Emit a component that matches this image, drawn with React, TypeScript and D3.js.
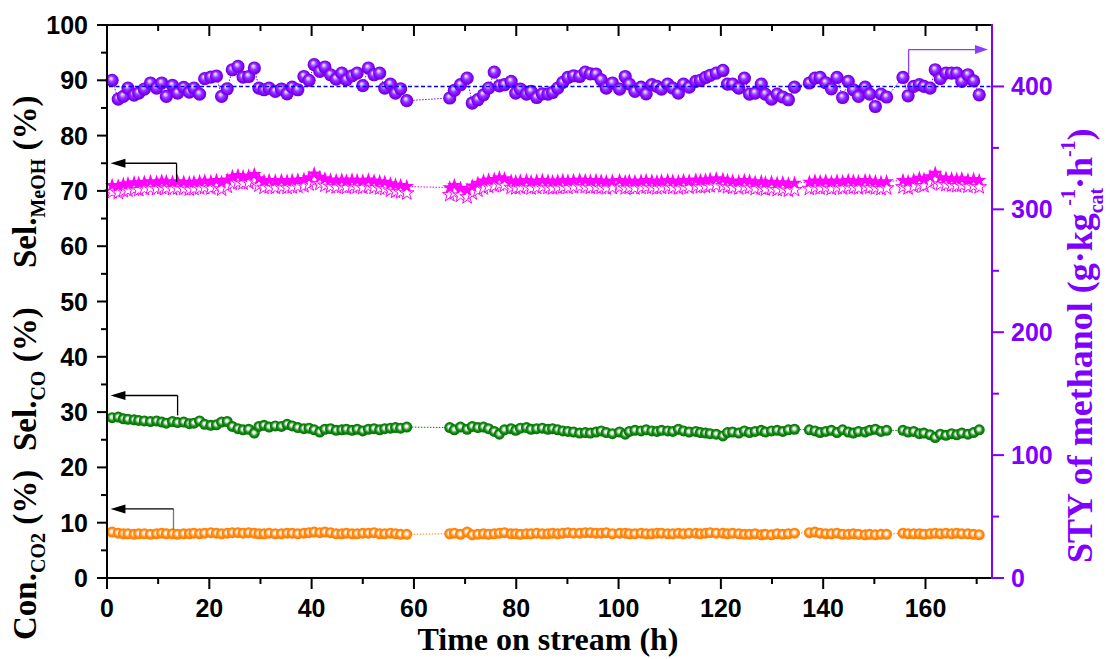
import React from 'react';
import * as d3 from 'd3';

// Time on stream (h)
const hours = [
  1.0, 2.2, 3.2, 4.1, 5.3, 6.2, 7.3, 8.5, 9.7, 10.7, 11.6, 12.8, 13.8, 15.0, 16.1, 17.0, 18.1, 19.1, 20.3, 21.4,
  22.4, 23.5, 24.5, 25.6, 26.6, 27.7, 28.8, 29.7, 30.7, 31.7, 32.9, 34.1, 35.2, 36.2, 37.3, 38.5, 39.5, 40.5, 41.6, 42.6,
  43.7, 44.8, 45.9, 46.8, 47.9, 48.9, 50.0, 51.1, 52.2, 53.3, 54.3, 55.4, 56.4, 57.4, 58.6,
  67.0, 67.9, 69.1, 70.4, 71.4, 72.5, 73.6, 74.6, 75.7, 76.7, 77.7, 79.0, 79.9, 80.8, 82.0, 82.9, 84.0, 85.1, 86.2, 87.1,
  88.1, 89.1, 90.1, 91.2, 92.4, 93.5, 94.5, 95.6, 96.6, 97.6, 98.8, 100.2, 101.3, 102.1, 103.2, 104.4, 105.4, 106.5, 107.5, 108.4,
  109.6, 110.6, 111.7, 112.7, 113.8, 115.1, 116.0, 117.0, 117.9, 119.1, 120.4, 121.3, 122.3, 123.5, 124.6, 125.6, 126.7, 127.9, 128.7, 129.9,
  131.0, 132.1, 133.2, 134.4,
  137.3, 138.4, 139.4, 140.5, 141.6, 142.7, 143.8, 144.9, 145.9, 146.9, 148.2, 149.1, 150.2, 151.3, 152.4,
  155.6, 156.6, 157.7, 158.8, 159.7, 160.9, 161.9, 162.9, 164.0, 165.1, 166.1, 167.1, 168.3, 169.4, 170.5,
];

// STY of methanol (g·kg_cat^-1·h^-1), right axis
const styMethanol = [
  405, 389.7, 391.9, 398.7, 393, 394.6, 397.9, 402.8, 398.7, 402.8, 391.9, 400.8, 394.6, 399.2, 395.4, 398.7, 393.8, 406.3, 407.6, 408.5,
  391.9, 398.1, 413.6, 416.3, 407.6, 408.1, 415, 398.7, 397.3, 398.7, 396, 397.9, 394, 399.4, 397.3, 408.1, 405, 417.7, 412.2, 415.8,
  409.5, 406, 410.9, 405.4, 408.7, 410.9, 400.6, 415, 409.5, 410.9, 398.7, 401.9, 394.6, 398.1, 388.4,
  390.6, 396.8, 401.4, 406.8, 386.5, 389.2, 393.2, 398.7, 411.7, 400.5, 401.4, 404.1, 394.6, 397.9, 393.8, 396, 391, 394, 393.8, 395.1,
  398.7, 403.3, 407.3, 408.7, 408.1, 411.7, 410.3, 410.1, 405.4, 398.7, 402.8, 397.9, 408.1, 401.9, 396, 399.4, 394, 401.4, 400, 397.9,
  401.9, 398.7, 394.6, 401.9, 399.4, 404.1, 405, 407.3, 409, 410.9, 413, 401.9, 401.9, 398.7, 406.8, 393.8, 394.6, 401.9, 393.8, 389.7,
  393.8, 391.4, 389.2, 399.4,
  402.8, 406.8, 407.3, 403, 398.1, 407.3, 391, 404.1, 397.3, 391.9, 399.4, 393.8, 383.7, 393.8, 391.4,
  407.3, 392.4, 400, 401.4, 400, 398.7, 413.6, 406.3, 410.9, 410.9, 410.9, 404.1, 409.5, 404.5, 393.2,
];

// Sel. MeOH (%), filled stars
const selMeOH = [
  71.0, 70.9, 71.2, 71.3, 71.5, 71.4, 71.6, 71.7, 71.6, 71.8, 71.7, 71.6, 71.7, 71.6, 71.5, 71.6, 71.7, 71.8, 71.7, 71.9,
  71.6, 72.0, 72.6, 72.8, 72.6, 72.7, 73.0, 72.2, 71.8, 71.9, 71.8, 71.9, 71.8, 71.9, 72.0, 72.1, 72.4, 73.1, 72.5, 72.2,
  72.0, 71.9, 72.0, 71.8, 72.0, 71.9, 71.8, 72.0, 71.8, 71.7, 71.6, 71.3, 71.1, 71.0, 70.8,
  70.6, 71.0, 70.5, 70.2, 70.9, 71.4, 71.8, 72.0, 72.1, 72.4, 72.2, 71.8, 71.7, 71.8, 71.9, 71.7, 71.8, 71.9, 71.8, 71.7,
  71.8, 71.9, 71.8, 71.9, 72.0, 71.9, 71.8, 71.9, 71.8, 71.7, 71.8, 71.9, 71.7, 71.8, 71.7, 71.8, 71.9, 71.8, 71.7, 71.8,
  71.9, 71.8, 71.7, 71.9, 71.8, 72.0, 71.9, 72.0, 72.1, 72.2, 72.1, 71.9, 71.8, 71.7, 71.9, 71.8, 71.6, 71.7, 71.5, 71.6,
  71.4, 71.5, 71.3, 71.4,
  71.6, 71.8, 71.7, 71.8, 71.6, 71.8, 71.7, 71.9, 71.8, 71.7, 71.9, 71.8, 71.7, 71.6, 71.7,
  71.9, 71.7, 72.0, 72.3, 72.1, 72.6, 73.2, 72.4, 72.3, 72.2, 72.1, 72.2, 72.0, 72.1, 71.9,
];

// Sel. MeOH (%), open stars
const selMeOHOpen = [
  69.8, 69.7, 70.0, 70.1, 70.3, 70.2, 70.4, 70.5, 70.4, 70.6, 70.5, 70.4, 70.5, 70.4, 70.3, 70.4, 70.5, 70.6, 70.5, 70.7,
  70.3, 70.8, 71.3, 71.5, 71.4, 71.5, 71.8, 71.0, 70.6, 70.7, 70.6, 70.7, 70.6, 70.7, 70.8, 70.9, 71.2, 71.8, 71.3, 71.0,
  70.8, 70.7, 70.8, 70.6, 70.8, 70.7, 70.6, 70.8, 70.6, 70.5, 70.4, 70.1, 69.9, 69.8, 69.6,
  69.3, 69.7, 69.2, 68.9, 69.6, 70.1, 70.5, 70.8, 70.9, 71.2, 71.0, 70.6, 70.5, 70.6, 70.7, 70.5, 70.6, 70.7, 70.6, 70.5,
  70.6, 70.7, 70.6, 70.7, 70.8, 70.7, 70.6, 70.7, 70.6, 70.5, 70.6, 70.7, 70.5, 70.6, 70.5, 70.6, 70.7, 70.6, 70.5, 70.6,
  70.7, 70.6, 70.5, 70.7, 70.6, 70.8, 70.7, 70.8, 70.9, 71.0, 70.9, 70.7, 70.6, 70.5, 70.7, 70.6, 70.4, 70.5, 70.3, 70.4,
  70.2, 70.3, 70.1, 70.2,
  70.4, 70.6, 70.5, 70.6, 70.4, 70.6, 70.5, 70.7, 70.6, 70.5, 70.7, 70.6, 70.5, 70.4, 70.5,
  70.7, 70.5, 70.8, 71.1, 70.9, 71.4, 72.0, 71.2, 71.1, 71.0, 70.9, 71.0, 70.8, 70.9, 70.7,
];

// Sel. CO (%)
const selCO = [
  29.0, 29.1, 28.8, 28.7, 28.6, 28.5, 28.4, 28.3, 28.4, 28.2, 28.0, 28.3, 28.1, 28.2, 27.9, 28.0, 28.4, 27.8, 27.6, 27.7,
  28.2, 28.3, 27.4, 27.0, 26.8, 26.9, 26.2, 27.4, 27.6, 27.3, 27.5, 27.4, 27.8, 27.5, 27.2, 27.0, 27.1, 26.8, 26.4, 26.9,
  27.0, 26.7, 26.8, 26.9, 26.7, 26.9, 26.6, 26.9, 27.0, 26.8, 27.0, 27.1, 27.2, 27.1, 27.3,
  27.2, 26.8, 27.3, 26.9, 27.4, 27.2, 27.3, 27.0, 26.5, 26.0, 26.8, 27.0, 26.7, 27.1, 27.2, 26.9, 27.0, 27.1, 26.9, 27.0,
  26.8, 26.6, 26.5, 26.4, 26.2, 26.3, 26.2, 26.4, 26.6, 26.3, 26.1, 26.4, 26.0, 26.5, 26.7, 26.6, 26.8, 26.6, 26.5, 26.7,
  26.6, 26.5, 26.9, 26.6, 26.4, 26.5, 26.3, 26.2, 26.1, 26.0, 25.7, 26.3, 26.4, 26.2, 26.6, 26.3, 26.5, 26.7, 26.4, 26.6,
  26.7, 26.5, 26.8, 26.9,
  26.8, 26.6, 26.3, 26.5, 26.7, 26.3, 26.8, 26.4, 26.2, 26.5, 26.4, 26.7, 26.9, 26.5, 26.7,
  26.7, 26.4, 26.5, 26.1, 26.2, 25.9, 25.4, 26.0, 25.8, 26.1, 25.9, 26.2, 26.0, 26.3, 26.8,
];

// Con. CO2 (%)
const convCO2 = [
  8.3, 8.1, 8.0, 8.0, 7.9, 8.0, 8.0, 7.9, 8.0, 8.1, 8.0, 8.0, 7.9, 8.0, 8.0, 8.1, 8.0, 8.1, 8.2, 8.1,
  8.0, 8.1, 8.2, 8.2, 8.1, 8.2, 8.1, 8.0, 8.0, 8.1, 8.0, 8.0, 8.1, 8.1, 8.0, 8.1, 8.2, 8.3, 8.2, 8.3,
  8.2, 8.0, 8.0, 8.1, 8.0, 8.0, 8.1, 8.1, 8.2, 8.0, 8.0, 8.1, 8.0, 7.9, 7.9,
  8.0, 8.1, 7.9, 8.3, 7.8, 7.9, 8.0, 7.9, 8.0, 8.1, 8.2, 8.0, 8.0, 7.9, 8.0, 8.0, 8.1, 8.0, 8.0, 8.1,
  8.0, 8.1, 8.2, 8.1, 8.1, 8.2, 8.2, 8.1, 8.1, 8.2, 8.0, 8.1, 8.1, 8.0, 8.0, 8.1, 8.0, 8.0, 8.1, 8.1,
  8.0, 8.0, 8.1, 8.0, 8.1, 8.1, 8.0, 8.1, 8.2, 8.1, 8.1, 8.0, 8.1, 8.0, 7.9, 7.9, 8.0, 7.8, 7.9, 7.8,
  8.0, 7.9, 8.0, 8.1,
  8.2, 8.3, 8.1, 8.0, 8.0, 8.1, 7.9, 7.9, 8.0, 7.9, 7.8, 7.9, 7.8, 7.9, 7.9,
  8.1, 8.0, 8.0, 8.0, 7.9, 8.0, 8.1, 8.0, 8.1, 8.0, 8.1, 8.0, 8.0, 7.9, 7.8,
];

// Axis ticks
const leftMajor = [0, 10, 20, 30, 40, 50, 60, 70, 80, 90, 100];
const leftMinor = [5, 15, 25, 35, 45, 55, 65, 75, 85, 95];
const timeMajor = [0, 20, 40, 60, 80, 100, 120, 140, 160];
const timeMinor = [10, 30, 50, 70, 90, 110, 130, 150, 170];
const rightMajor = [0, 100, 200, 300, 400];
const rightMinor = [50, 150, 250, 350];
const styTarget = 400;

const W = 1110;
const H = 659;
const X0 = 107;
const X1 = 992;
const Y0 = 578;
const Y1 = 25;

const PURPLE = '#8000ff';
const SANS = '"Liberation Sans", Arial, sans-serif';
const SERIF = '"Liberation Serif", "Times New Roman", serif';

export default function App() {
  const x = d3.scaleLinear().domain([0, 173]).range([X0, X1]);
  const yL = d3.scaleLinear().domain([0, 100]).range([Y0, Y1]);
  const yR = d3.scaleLinear().domain([0, 450]).range([Y0, Y1]);

  const lineL = (vals: number[]) =>
    d3.line<number>().x((_, i) => x(hours[i])).y((d) => yL(d))(vals) || '';
  const lineR = (vals: number[]) =>
    d3.line<number>().x((_, i) => x(hours[i])).y((d) => yR(d))(vals) || '';

  const star = d3.symbol().type(d3.symbolStar).size(66)() || '';

  // Arrow: polyline from the marker row to the axis with a filled head
  const arrowLeft = (tx: number, yTop: number, yBot: number, vColor = '#000') => {
    const ax = x(tx);
    const ay = yL(yTop);
    return (
      <g>
        <line x1={ax} y1={yL(yBot)} x2={ax} y2={ay} stroke={vColor} strokeWidth={1.3} />
        <line x1={ax} y1={ay} x2={x(1.5)} y2={ay} stroke="#000" strokeWidth={1.3} />
        <path d={`M${x(0.7)},${ay} L${x(3.6)},${ay - 4.5} L${x(3.6)},${ay + 4.5} Z`} fill="#000" />
      </g>
    );
  };

  const rx = x(156.7);
  const ry = yR(430);
  const tipX = x(172.2);

  return (
    <svg
      width={W}
      height={H}
      viewBox={`0 0 ${W} ${H}`}
      style={{ position: 'absolute', left: 0, top: 0, background: '#fff' }}
    >
      <defs>
        <radialGradient id="ballPurple" cx="50%" cy="50%" r="50%" fx="40%" fy="33%">
          <stop offset="0" stopColor="#f6eeff" />
          <stop offset="0.18" stopColor="#d6b4ff" />
          <stop offset="0.45" stopColor="#9636ff" />
          <stop offset="0.8" stopColor="#8000ff" />
          <stop offset="1" stopColor="#6800d6" />
        </radialGradient>
        <radialGradient id="ballGreen" cx="50%" cy="50%" r="50%" fx="46%" fy="42%">
          <stop offset="0" stopColor="#ffffff" />
          <stop offset="0.22" stopColor="#eef7ee" />
          <stop offset="0.45" stopColor="#6fb86f" />
          <stop offset="0.65" stopColor="#148a14" />
          <stop offset="1" stopColor="#007000" />
        </radialGradient>
        <radialGradient id="ballOrange" cx="50%" cy="50%" r="50%" fx="46%" fy="42%">
          <stop offset="0" stopColor="#ffffff" />
          <stop offset="0.22" stopColor="#fff3e6" />
          <stop offset="0.45" stopColor="#ffbd78" />
          <stop offset="0.65" stopColor="#ff8a12" />
          <stop offset="1" stopColor="#ff7c00" />
        </radialGradient>
      </defs>

      {/* thin dotted connectors through every series */}
      <path d={lineR(styMethanol)} fill="none" stroke={PURPLE} strokeWidth={1} strokeDasharray="1.5,1.5" />
      <path d={lineL(selMeOH)} fill="none" stroke="#ff00ff" strokeWidth={1} strokeDasharray="1.5,1.5" />
      <path d={lineL(selCO)} fill="none" stroke="#008000" strokeWidth={1} strokeDasharray="1.5,1.5" />
      <path d={lineL(convCO2)} fill="none" stroke="#ff8000" strokeWidth={1} strokeDasharray="1.5,1.5" />

      {/* Con. CO2 */}
      {convCO2.map((v, i) => (
        <circle key={`c${i}`} cx={x(hours[i])} cy={yL(v)} r={5.5} fill="url(#ballOrange)" />
      ))}
      {/* Sel. CO */}
      {selCO.map((v, i) => (
        <circle key={`g${i}`} cx={x(hours[i])} cy={yL(v)} r={5.5} fill="url(#ballGreen)" />
      ))}
      {/* Sel. MeOH */}
      {selMeOHOpen.map((v, i) => (
        <path
          key={`so${i}`}
          d={star}
          transform={`translate(${x(hours[i])},${yL(v)})`}
          fill="#fff"
          stroke="#ff00ff"
          strokeWidth={1}
        />
      ))}
      {selMeOH.map((v, i) => (
        <path key={`sf${i}`} d={star} transform={`translate(${x(hours[i])},${yL(v)})`} fill="#ff00ff" />
      ))}
      {/* STY of methanol */}
      {styMethanol.map((v, i) => (
        <circle key={`p${i}`} cx={x(hours[i])} cy={yR(v)} r={6.6} fill="url(#ballPurple)" />
      ))}

      {/* STY reference level */}
      <line
        x1={X0 + 2}
        x2={X1 - 1}
        y1={yR(styTarget)}
        y2={yR(styTarget)}
        stroke="#0000ff"
        strokeWidth={1.4}
        strokeDasharray="4,2.5"
      />

      {/* arrows pointing to the relevant axes */}
      {arrowLeft(13.6, 75, 71.6)}
      {arrowLeft(13.8, 33, 29.4)}
      {arrowLeft(13.0, 12.5, 8.7, '#777')}
      <g>
        <line x1={rx} y1={yR(410)} x2={rx} y2={ry} stroke="#8a3cff" strokeWidth={1.3} />
        <line x1={rx} y1={ry} x2={tipX - 8} y2={ry} stroke="#8a3cff" strokeWidth={1.3} />
        <path d={`M${tipX},${ry} L${tipX - 13},${ry - 4.5} L${tipX - 13},${ry + 4.5} Z`} fill="#8a3cff" />
      </g>

      {/* frame: top and bottom axes */}
      <line x1={X0 - 1} x2={X1} y1={Y1} y2={Y1} stroke="#000" strokeWidth={2} />
      <line x1={X0 - 1} x2={X1} y1={Y0} y2={Y0} stroke="#000" strokeWidth={2} />
      {timeMajor.map((t) => (
        <g key={`tm${t}`}>
          <line x1={x(t)} x2={x(t)} y1={Y0} y2={Y0 + 11} stroke="#000" strokeWidth={2} />
          <line x1={x(t)} x2={x(t)} y1={Y1} y2={Y1 + 11} stroke="#000" strokeWidth={2} />
          <text
            x={x(t)}
            y={617}
            textAnchor="middle"
            fontFamily={SANS}
            fontWeight="bold"
            fontSize={25}
            fill="#000"
          >
            {t}
          </text>
        </g>
      ))}
      {timeMinor.map((t) => (
        <g key={`tn${t}`}>
          <line x1={x(t)} x2={x(t)} y1={Y0} y2={Y0 + 6} stroke="#000" strokeWidth={2} />
          <line x1={x(t)} x2={x(t)} y1={Y1} y2={Y1 + 6} stroke="#000" strokeWidth={2} />
        </g>
      ))}

      {/* left axis */}
      <line x1={X0} x2={X0} y1={Y1 - 1} y2={Y0 + 1} stroke="#000" strokeWidth={2} />
      {leftMajor.map((v) => (
        <g key={`lm${v}`}>
          <line x1={X0 - 10} x2={X0} y1={yL(v)} y2={yL(v)} stroke="#000" strokeWidth={2} />
          <text
            x={88}
            y={yL(v)}
            dy="0.36em"
            textAnchor="end"
            fontFamily={SANS}
            fontWeight="bold"
            fontSize={25}
            fill="#000"
          >
            {v}
          </text>
        </g>
      ))}
      {leftMinor.map((v) => (
        <line key={`ln${v}`} x1={X0 - 6} x2={X0} y1={yL(v)} y2={yL(v)} stroke="#000" strokeWidth={2} />
      ))}

      {/* right axis */}
      <line x1={X1} x2={X1} y1={Y1 - 1} y2={Y0 + 1} stroke={PURPLE} strokeWidth={2} />
      {rightMajor.map((v) => (
        <g key={`rm${v}`}>
          <line x1={X1} x2={X1 + 12} y1={yR(v)} y2={yR(v)} stroke={PURPLE} strokeWidth={2} />
          <text
            x={1011}
            y={yR(v)}
            dy="0.36em"
            textAnchor="start"
            fontFamily={SANS}
            fontWeight="bold"
            fontSize={25}
            fill={PURPLE}
          >
            {v}
          </text>
        </g>
      ))}
      {rightMinor.map((v) => (
        <line key={`rn${v}`} x1={X1} x2={X1 + 7} y1={yR(v)} y2={yR(v)} stroke={PURPLE} strokeWidth={2} />
      ))}

      {/* axis titles */}
      <text x={548} y={650} textAnchor="middle" fontFamily={SERIF} fontWeight="bold" fontSize={32} fill="#000">
        Time on stream (h)
      </text>

      <g fontFamily={SERIF} fontWeight="bold" fill="#000">
        <text transform="translate(36,640) rotate(-90)" fontSize={33}>
          Con.
          <tspan fontSize={20} dy={9}>CO2</tspan>
          <tspan dy={-9}> (%)</tspan>
        </text>
        <text transform="translate(36,451) rotate(-90)" fontSize={33}>
          Sel.
          <tspan fontSize={20} dy={9}>CO</tspan>
          <tspan dy={-9}> (%)</tspan>
        </text>
        <text transform="translate(36,268) rotate(-90)" fontSize={33}>
          Sel.
          <tspan fontSize={20} dy={9}>MeOH</tspan>
          <tspan dy={-9}> (%)</tspan>
        </text>
      </g>

      <text
        transform="translate(1092,563) rotate(-90)"
        fontFamily={SERIF}
        fontWeight="bold"
        fontSize={36}
        fill={PURPLE}
      >
        STY of methanol (g·kg
        <tspan fontSize={20} dy={11}>cat</tspan>
        <tspan fontSize={20} dx={-18} dy={-28}>-1</tspan>
        <tspan dy={17}>·h</tspan>
        <tspan fontSize={20} dy={-17}>-1</tspan>
        <tspan dy={17}>)</tspan>
      </text>
    </svg>
  );
}
